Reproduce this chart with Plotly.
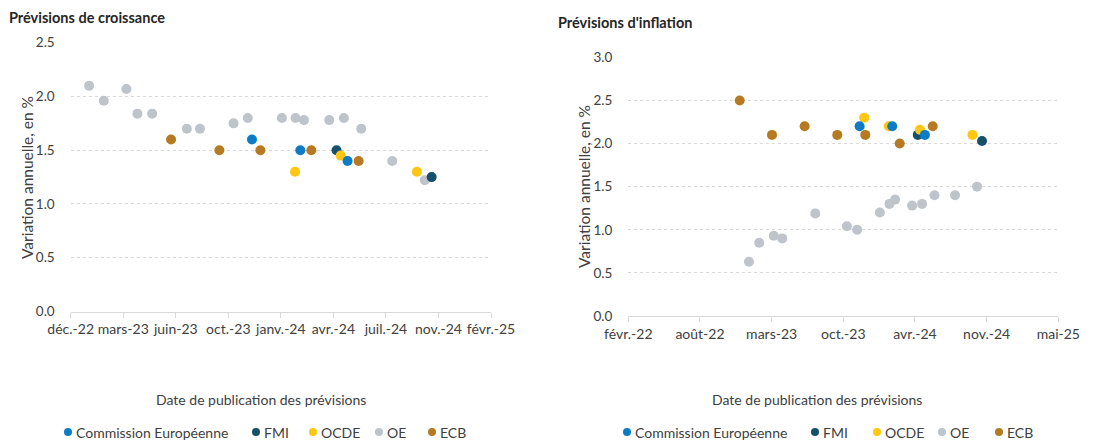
import plotly.graph_objects as go

# ---------------- Data: growth forecasts (left) ----------------
g_ec_dates = ["2023-11-15", "2024-02-15", "2024-05-15"]
g_ec_vals = [1.6, 1.5, 1.4]
g_fmi_dates = ["2024-04-24", "2024-10-22"]
g_fmi_vals = [1.5, 1.25]
g_ocde_dates = ["2024-02-05", "2024-05-02", "2024-09-24"]
g_ocde_vals = [1.3, 1.45, 1.3]
g_oe_dates = ["2023-01-09", "2023-02-06", "2023-03-21", "2023-04-11", "2023-05-09",
              "2023-07-14", "2023-08-08", "2023-10-11", "2023-11-07", "2024-01-11",
              "2024-02-06", "2024-02-22", "2024-04-10", "2024-05-08", "2024-06-10",
              "2024-08-08", "2024-10-09"]
g_oe_vals = [2.10, 1.96, 2.07, 1.84, 1.84, 1.70, 1.70, 1.75, 1.80, 1.80,
             1.80, 1.78, 1.78, 1.80, 1.70, 1.40, 1.22]
g_ecb_dates = ["2023-06-14", "2023-09-14", "2023-12-01", "2024-03-07", "2024-06-05"]
g_ecb_vals = [1.6, 1.5, 1.5, 1.5, 1.4]

g_tick_dates = ["2022-12-05", "2023-03-15", "2023-06-23", "2023-10-01", "2024-01-09",
                "2024-04-18", "2024-07-27", "2024-11-04", "2025-02-12"]
g_tick_labels = ["déc.-22", "mars-23", "juin-23", "oct.-23", "janv.-24",
                 "avr.-24", "juil.-24", "nov.-24", "févr.-25"]

# ---------------- Data: inflation forecasts (right) ----------------
i_ec_dates = ["2023-11-16", "2024-02-16", "2024-05-18"]
i_ec_vals = [2.2, 2.2, 2.1]
i_fmi_dates = ["2024-04-28", "2024-10-26"]
i_fmi_vals = [2.1, 2.03]
i_ocde_dates = ["2023-11-29", "2024-02-06", "2024-05-04", "2024-09-29"]
i_ocde_vals = [2.3, 2.2, 2.16, 2.1]
i_oe_dates = ["2023-01-08", "2023-02-06", "2023-03-19", "2023-04-12", "2023-07-14",
              "2023-10-11", "2023-11-09", "2024-01-12", "2024-02-08", "2024-02-24",
              "2024-04-12", "2024-05-10", "2024-06-14", "2024-08-11", "2024-10-12"]
i_oe_vals = [0.63, 0.85, 0.93, 0.90, 1.19, 1.04, 1.00, 1.20, 1.30, 1.35,
             1.28, 1.30, 1.40, 1.40, 1.50]
i_ecb_dates = ["2022-12-13", "2023-03-14", "2023-06-14", "2023-09-14", "2023-12-02",
               "2024-03-08", "2024-06-09"]
i_ecb_vals = [2.5, 2.1, 2.2, 2.1, 2.1, 2.0, 2.2]

i_tick_dates = ["2022-02-02", "2022-08-23", "2023-03-13", "2023-10-01",
                "2024-04-20", "2024-11-08", "2025-05-29"]
i_tick_labels = ["févr.-22", "août-22", "mars-23", "oct.-23", "avr.-24", "nov.-24", "mai-25"]

series_names = ["Commission Européenne", "FMI", "OCDE", "OE", "ECB"]
colors = {"Commission Européenne": "#0E7BC6", "FMI": "#16506B", "OCDE": "#FFC612",
          "OE": "#BFC4CB", "ECB": "#B57A22"}

FONT = "Lato"
TXT = "#404040"
# the page body has an 8px margin: the figure starts at (8, 8) on screen
OFF = 8
W, H = 1100 - OFF, 443 - OFF


def px(x):
    return (x - OFF) / W


def py(y):
    return 1 - (y - OFF) / H


fig = go.Figure()

left = {"OE": (g_oe_dates, g_oe_vals), "ECB": (g_ecb_dates, g_ecb_vals),
        "FMI": (g_fmi_dates, g_fmi_vals), "OCDE": (g_ocde_dates, g_ocde_vals),
        "Commission Européenne": (g_ec_dates, g_ec_vals)}
right = {"OE": (i_oe_dates, i_oe_vals), "ECB": (i_ecb_dates, i_ecb_vals),
         "FMI": (i_fmi_dates, i_fmi_vals), "OCDE": (i_ocde_dates, i_ocde_vals),
         "Commission Européenne": (i_ec_dates, i_ec_vals)}
draw_order = ["OE", "ECB", "FMI", "OCDE", "Commission Européenne"]

for name in draw_order:
    d, v = left[name]
    fig.add_trace(go.Scatter(x=d, y=v, mode="markers", name=name,
                             marker=dict(color=colors[name], size=10),
                             xaxis="x", yaxis="y", showlegend=False))
for name in draw_order:
    d, v = right[name]
    fig.add_trace(go.Scatter(x=d, y=v, mode="markers", name=name,
                             marker=dict(color=colors[name], size=10),
                             xaxis="x2", yaxis="y2", showlegend=False))

axis_common_x = dict(type="date", showgrid=False, showline=True, linecolor="#D9D9D9",
                     linewidth=1, ticks="outside", ticklen=5, tickcolor="#D9D9D9",
                     tickfont=dict(family=FONT, size=14, color=TXT), zeroline=False,
                     fixedrange=True, automargin=False)
axis_common_y = dict(showgrid=True, gridcolor="#D9D9D9", griddash="dot", gridwidth=1,
                     showline=False, zeroline=False, ticks="", ticklabelstandoff=15,
                     tickfont=dict(family=FONT, size=13.5, color=TXT), tickformat=".1f",
                     dtick=0.5, fixedrange=True, automargin=False)

fig.update_layout(
    width=W, height=H,
    margin=dict(l=0, r=0, t=0, b=0, autoexpand=False),
    paper_bgcolor="white", plot_bgcolor="white",
    font=dict(family=FONT, color=TXT),
    showlegend=False,
    xaxis=dict(axis_common_x, domain=[px(70.7), px(491)], anchor="y",
               range=[g_tick_dates[0], g_tick_dates[-1]],
               tickvals=g_tick_dates, ticktext=g_tick_labels),
    yaxis=dict(axis_common_y, domain=[py(311.5), py(42.7)], anchor="x",
               range=[0, 2.5]),
    xaxis2=dict(axis_common_x, domain=[px(628.3), px(1058.3)], anchor="y2",
                range=[i_tick_dates[0], i_tick_dates[-1]],
                tickvals=i_tick_dates, ticktext=i_tick_labels),
    yaxis2=dict(axis_common_y, domain=[py(316), py(57.3)], anchor="x2",
                range=[0, 3.0]),
)

annotations = [
    dict(text="<b>Prévisions de croissance</b>", x=px(8.5), y=py(18), xanchor="left",
         yanchor="middle", font=dict(family=FONT, size=14.5, color="#262626")),
    dict(text="<b>Prévisions d'inflation</b>", x=px(558), y=py(22.5), xanchor="left",
         yanchor="middle", font=dict(family=FONT, size=14.5, color="#262626")),
    dict(text="Variation annuelle, en %", x=px(27), y=py(178), textangle=-90,
         xanchor="center", yanchor="middle", font=dict(family=FONT, size=15.5, color=TXT)),
    dict(text="Variation annuelle, en %", x=px(584), y=py(187), textangle=-90,
         xanchor="center", yanchor="middle", font=dict(family=FONT, size=15.5, color=TXT)),
    dict(text="Date de publication des prévisions", x=px(261), y=py(399),
         xanchor="center", yanchor="middle", font=dict(family=FONT, size=14, color=TXT)),
    dict(text="Date de publication des prévisions", x=px(817), y=py(399),
         xanchor="center", yanchor="middle", font=dict(family=FONT, size=14, color=TXT)),
]

# Legends (one under each chart), drawn as marker circles + text labels
legend_y = 432
left_legend_x = [68, 256, 313, 379, 432]
right_legend_x = [627, 815, 877, 942, 999]
shapes = []
for xs in (left_legend_x, right_legend_x):
    for name, xm in zip(series_names, xs):
        shapes.append(dict(type="circle", xref="paper", yref="paper",
                           xsizemode="pixel", ysizemode="pixel",
                           xanchor=px(xm), yanchor=py(legend_y),
                           x0=-4, x1=4, y0=-4, y1=4,
                           fillcolor=colors[name], line=dict(width=0)))
        annotations.append(dict(text=name, x=px(xm + 8), y=py(legend_y),
                                xanchor="left", yanchor="middle",
                                font=dict(family=FONT, size=14, color=TXT)))

for a in annotations:
    a.update(xref="paper", yref="paper", showarrow=False, borderpad=0, borderwidth=0)
fig.update_layout(annotations=annotations, shapes=shapes)

fig.write_html("out.html")
